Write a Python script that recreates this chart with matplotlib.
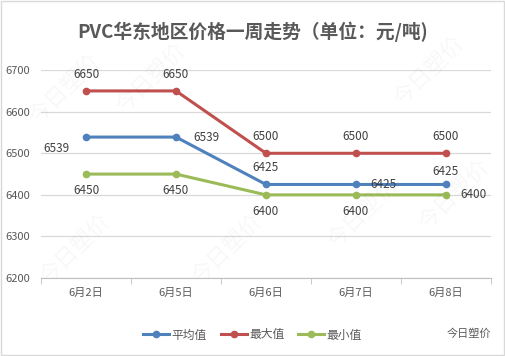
import matplotlib.pyplot as plt
from matplotlib.patches import Rectangle

plt.rcParams['font.family'] = ['Noto Sans CJK SC', 'DejaVu Sans']

dates = ['6月2日', '6月5日', '6月6日', '6月7日', '6月8日']
avg_vals = [6539, 6539, 6425, 6425, 6425]
max_vals = [6650, 6650, 6500, 6500, 6500]
min_vals = [6450, 6450, 6400, 6400, 6400]

grey = '#595959'
c_avg = '#4F81BD'
c_max = '#C0504D'
c_min = '#9BBB59'

fig = plt.figure(figsize=(5.05, 3.56), dpi=100)
ax = fig.add_axes([0.0812, 0.219, 0.891, 0.584])

x = list(range(len(dates)))
ax.plot(x, avg_vals, color=c_avg, lw=2.2, marker='o', ms=4.5, label='平均值')
ax.plot(x, max_vals, color=c_max, lw=2.2, marker='o', ms=4.5, label='最大值')
ax.plot(x, min_vals, color=c_min, lw=2.2, marker='o', ms=4.5, label='最小值')

# data labels (offsets in points)
avg_off = [(-21, -8), (22, 0), (0, 12), (20, 0), (0, 9)]
max_off = [(0, 12), (0, 12), (0, 12), (0, 12), (0, 12)]
min_off = [(0, -12), (0, -12), (0, -12), (0, -12), (20, 0)]
for vals, offs in [(avg_vals, avg_off), (max_vals, max_off), (min_vals, min_off)]:
    for i, (v, o) in enumerate(zip(vals, offs)):
        ax.annotate(str(v), (i, v), xytext=o, textcoords='offset points',
                    ha='center', va='center', fontsize=8.5, color='#404040')

ax.set_xlim(-0.5, len(dates) - 0.5)
ax.set_ylim(6200, 6700)
ax.set_yticks(range(6200, 6701, 100))
ax.set_xticks(x)
ax.set_xticklabels(dates)
ax.set_xticks([i - 0.5 for i in range(len(dates) + 1)], minor=True)
ax.tick_params(axis='y', length=0, labelsize=8, colors=grey, pad=8)
ax.tick_params(axis='x', which='major', length=0, labelsize=8, colors=grey, pad=7)
ax.tick_params(axis='x', which='minor', length=4, color='#bfbfbf')
ax.grid(axis='y', color='#d9d9d9', lw=0.9)
ax.set_axisbelow(True)
for s in ['left', 'right', 'top']:
    ax.spines[s].set_visible(False)
ax.spines['bottom'].set_color('#bfbfbf')

fig.text(0.5, 0.91, 'PVC华东地区价格一周走势（单位：元/吨)', ha='center', va='center',
         fontsize=13.5, fontweight='bold', color=grey)

fig.legend(loc='center', bbox_to_anchor=(0.5, 0.059), ncol=3, frameon=False,
           fontsize=8.5, handlelength=2.2, handletextpad=0.2, columnspacing=1.2,
           labelcolor=grey)

# faint watermarks
for (wx, wy) in [(0.13, 0.75), (0.3, 0.78), (0.85, 0.8), (0.15, 0.3), (0.45, 0.3),
                 (0.72, 0.4), (0.9, 0.45)]:
    fig.text(wx, wy, '今日塑价', rotation=45, fontsize=16, color='#000000',
             alpha=0.03, ha='center', va='center')

fig.text(0.972, 0.062, '今日塑价', ha='right', va='center', fontsize=8, color=grey)
fig.patches.append(Rectangle((0.001, 0.002), 0.997, 0.995, transform=fig.transFigure,
                             fill=False, edgecolor='#d9d9d9', lw=1))

fig.savefig('out.png', dpi=100)
